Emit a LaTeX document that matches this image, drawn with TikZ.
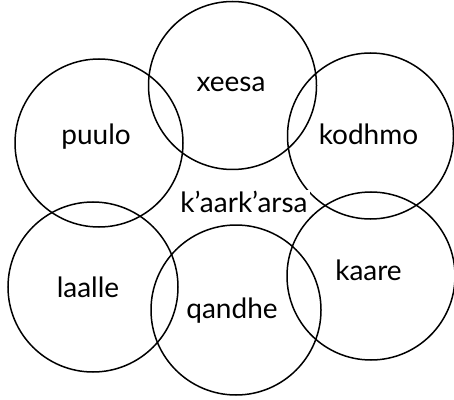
\documentclass[tikz,border=0pt]{standalone}
\usepackage{fontspec}
\setmainfont{Lato}
\begin{document}
\begin{tikzpicture}[x=1pt,y=1pt,
  ring/.style={draw=black,line width=1.5pt},
  lbl/.style={anchor=base,inner sep=1pt,font=\fontsize{28}{32}\selectfont},
  ctr/.style={lbl,fill=white,inner sep=2pt}]
\useasboundingbox (0,0) rectangle (454,399);
\path[ring] (232.5,313.5) circle[radius=84];
\path[ring] (99,256) circle[radius=84];
\path[ring] (370.5,263) circle[radius=83];
\path[ring] (93,112) circle[radius=85];
\path[ring] (236,89) circle[radius=85];
\path[ring] (371,123) circle[radius=84];
\node[lbl] (xeesa) at (231,307) {xeesa};
\node[lbl] (puulo) at (96,254) {puulo};
\node[lbl] (kodhmo) at (368.5,254) {kodhmo};
\node[lbl] (laalle) at (88,102) {laalle};
\node[lbl] (qandhe) at (232,81) {qandhe};
\node[lbl] (kaare) at (368.5,118.5) {kaare};
\node[ctr] (center) at (244,186) {k’aark’arsa};
\end{tikzpicture}
\end{document}
